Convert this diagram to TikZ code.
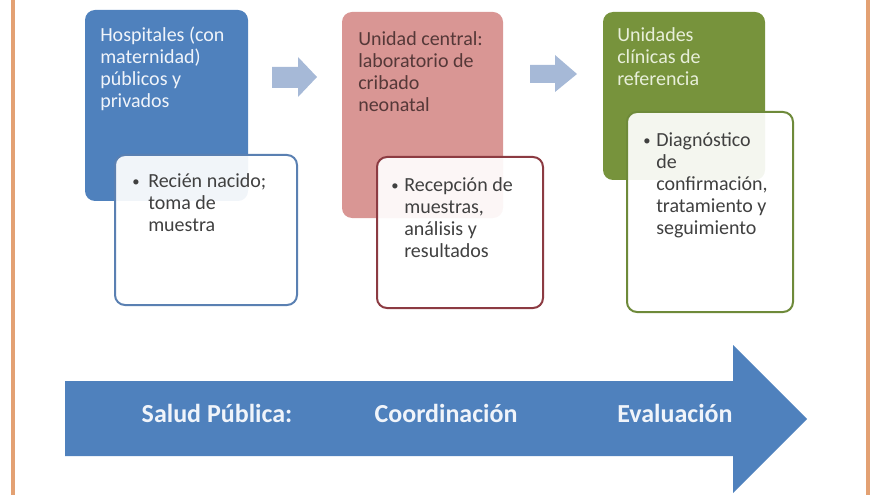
\documentclass[tikz,border=0pt]{standalone}
\usepackage{fontspec}
\setmainfont{Carlito}
\usepackage{tikz}

\definecolor{hospblue}{HTML}{4F81BD}
\definecolor{hospline}{HTML}{5A80B2}
\definecolor{hosptext}{HTML}{F0F4FA}
\definecolor{labpink}{HTML}{D99694}
\definecolor{labline}{HTML}{8C3B42}
\definecolor{labtext}{HTML}{553838}
\definecolor{refgreen}{HTML}{77933C}
\definecolor{refline}{HTML}{6E8A3A}
\definecolor{reftext}{HTML}{E8EFDA}
\definecolor{stepgrey}{HTML}{A6B9D7}
\definecolor{framec}{HTML}{E3A173}
\definecolor{bodytext}{HTML}{404040}

\begin{document}
\begin{tikzpicture}[x=0.75pt,y=-0.75pt,
    headbox/.style={rounded corners=7.5pt},
    subbox/.style={rounded corners=7.5pt, line width=1.5pt, fill=white, fill opacity=0.92},
    boxtext/.style={anchor=north west, inner sep=0pt, align=left, font=\fontsize{15}{16.5}\selectfont},
    dot/.style={inner sep=0pt, text=bodytext, font=\fontsize{11}{12}\selectfont},
    bandtext/.style={anchor=base, inner sep=0pt, text=hosptext, font=\fontsize{19.5}{22}\selectfont\bfseries}]
\useasboundingbox (0,0) rectangle (880,495);
\draw [framec, line width=2.5pt] (13,-10) rectangle (868,510);

\fill [headbox, hospblue] (85,10) rectangle (248,201);
\fill [headbox, labpink] (342,12) rectangle (503,218);
\fill [headbox, refgreen] (603,12) rectangle (765,180);

\fill [stepgrey] (272,67) -- (298,67) -- (298,57) -- (317,77) -- (298,97) -- (298,88) -- (272,88) -- cycle;
\fill [stepgrey] (530,65) -- (555,65) -- (555,55) -- (577,74) -- (555,92) -- (555,83) -- (530,83) -- cycle;

\draw [subbox, draw=hospline] (115,155) rectangle (297,305);
\draw [subbox, draw=labline] (377,157) rectangle (543,308);
\draw [subbox, draw=refline] (627,112) rectangle (793,312);

\node [boxtext, text=hosptext] (hosptitle) at (100,27) {Hospitales (con\\maternidad)\\públicos y\\privados};
\node [boxtext, text=labtext] (labtitle) at (358,31) {Unidad central:\\laboratorio de\\cribado\\neonatal};
\node [boxtext, text=reftext] (reftitle) at (617,27) {Unidades\\clínicas de\\referencia};

\node [dot] (hospdot) at (136,183) {\textbullet};
\node [boxtext, text=bodytext] (hospitem) at (148,173) {Recién nacido;\\toma de\\muestra};
\node [dot] (labdot) at (395,187) {\textbullet};
\node [boxtext, text=bodytext] (labitem) at (404,177) {Recepción de\\muestras,\\análisis y\\resultados};
\node [dot] (refdot) at (647,142) {\textbullet};
\node [boxtext, text=bodytext] (refitem) at (656,132) {Diagnóstico\\de\\confirmación,\\tratamiento y\\seguimiento};

\fill [hospblue] (65,381) -- (733,381) -- (733,345) -- (807,419) -- (733,493) -- (733,456) -- (65,456) -- cycle;
\node [bandtext] (salud) at (217,422) {Salud Pública:};
\node [bandtext] (coord) at (446,422) {Coordinación};
\node [bandtext] (eval) at (675,422) {Evaluación};
\end{tikzpicture}
\end{document}
